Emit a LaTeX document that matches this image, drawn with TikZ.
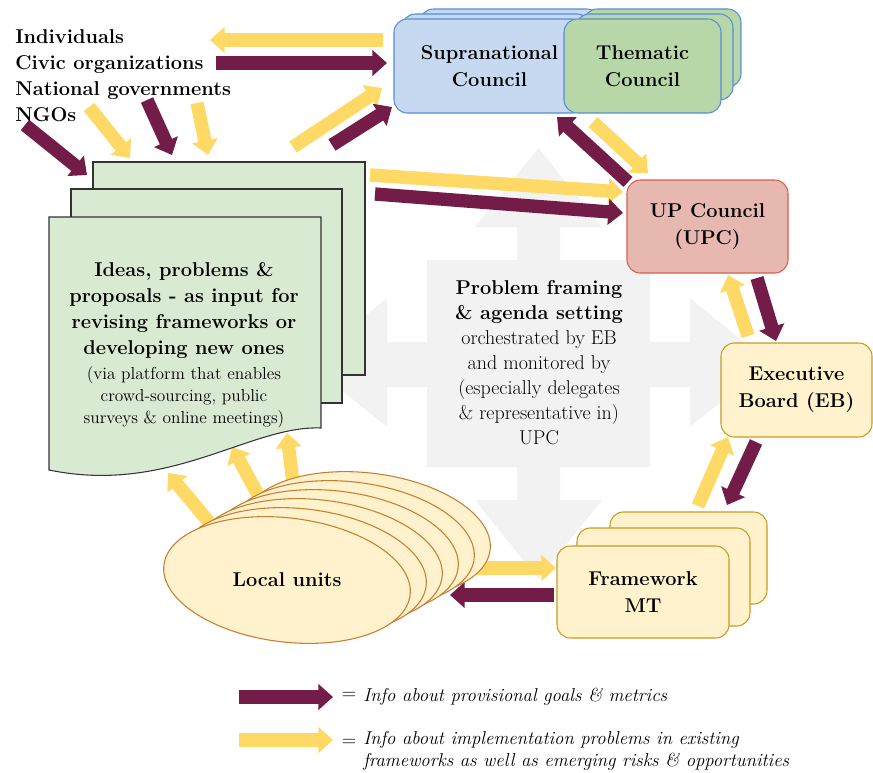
\documentclass[tikz,border=0pt]{standalone}
\usepackage{tikz}
\usetikzlibrary{arrows.meta,positioning,shapes.geometric}

\definecolor{plum}{RGB}{114,28,71}
\definecolor{gold}{RGB}{255,217,102}
\definecolor{paleblue}{RGB}{198,217,241}
\definecolor{bluerim}{RGB}{85,142,213}
\definecolor{sage}{RGB}{183,215,168}
\definecolor{mint}{RGB}{217,234,211}
\definecolor{cream}{RGB}{255,242,204}
\definecolor{ochre}{RGB}{200,155,30}
\definecolor{rose}{RGB}{230,184,175}
\definecolor{brick}{RGB}{215,95,75}
\definecolor{clay}{RGB}{200,125,50}
\definecolor{mist}{RGB}{242,242,242}

\newcommand\boxfont{\fontsize{15}{20.5}\selectfont\bfseries}
\newcommand\notefont{\fontsize{13}{16.5}\selectfont}
\newcommand\keyfont{\fontsize{14}{16.5}\selectfont\itshape}

\tikzset{
  flow/.style={line width=10pt,-{Triangle[length=11pt,width=19pt]}},
  goalflow/.style={flow,draw=plum},
  riskflow/.style={flow,draw=gold},
  sheet/.style={draw=black!80,fill=mint,line width=0.8pt},
  bluepanel/.style={draw=bluerim,fill=paleblue,rounded corners=10pt,line width=0.8pt},
  greenpanel/.style={draw=bluerim,fill=sage,rounded corners=10pt,line width=0.8pt},
  mtpanel/.style={draw=ochre,fill=cream,rounded corners=10pt,line width=0.8pt},
  panel/.style={rectangle,inner sep=0pt,align=center,font=\boxfont},
  actor/.style={anchor=base west,inner sep=0pt,font=\fontsize{15}{19.5}\selectfont\bfseries},
  unit/.style={ellipse,draw=clay,fill=cream,line width=0.8pt,inner sep=0pt,
    minimum width=186pt,minimum height=93pt,rotate=-7},
}

\begin{document}
\begin{tikzpicture}[x=0.75pt,y=-0.75pt]
\useasboundingbox (0,0) rectangle (873,772);

% grey cross in the middle
\fill[mist] (538.5,148) -- (602,227) -- (560,227) -- (560,260) -- (650,260) -- (650,342)
  -- (690,342) -- (690,298) -- (769,363) -- (690,427) -- (690,387) -- (650,387)
  -- (650,467) -- (560,467) -- (560,500) -- (602,500) -- (538.5,579) -- (475,500)
  -- (517,500) -- (517,467) -- (427,467) -- (427,387) -- (387,387) -- (387,427)
  -- (308,363) -- (387,298) -- (387,342) -- (427,342) -- (427,260) -- (517,260)
  -- (517,227) -- (475,227) -- cycle;

% arrow ends
\coordinate (ind-a) at (383,40);   \coordinate (ind-b) at (210,40);
\coordinate (civ-a) at (216,63);   \coordinate (civ-b) at (387,63);
\coordinate (ngo-a) at (25,125);   \coordinate (ngo-b) at (87,175);
\coordinate (nat1-a) at (89,107);  \coordinate (nat1-b) at (130,158);
\coordinate (nat2-a) at (147,100); \coordinate (nat2-b) at (172,155);
\coordinate (nat3-a) at (197,103); \coordinate (nat3-b) at (208,155);
\coordinate (up1-a) at (293,147);  \coordinate (up1-b) at (382,88);
\coordinate (up2-a) at (332,145);  \coordinate (up2-b) at (392,107);
\coordinate (upc1-a) at (370,175); \coordinate (upc1-b) at (623,192);
\coordinate (upc2-a) at (375,194); \coordinate (upc2-b) at (623,213);
\coordinate (sc1-a) at (628,182);  \coordinate (sc1-b) at (557,117);
\coordinate (sc2-a) at (593,122);  \coordinate (sc2-b) at (648,173);
\coordinate (eb1-a) at (748,336);  \coordinate (eb1-b) at (728,275);
\coordinate (eb2-a) at (757,278);  \coordinate (eb2-b) at (776,341);
\coordinate (mt1-a) at (698,506);  \coordinate (mt1-b) at (728,437);
\coordinate (mt2-a) at (756,442);  \coordinate (mt2-b) at (727,505);
\coordinate (lu1-a) at (470,568);  \coordinate (lu1-b) at (556,568);
\coordinate (lu2-a) at (554,595);  \coordinate (lu2-b) at (450,595);
\coordinate (in1-a) at (213,527);  \coordinate (in1-b) at (168,473);
\coordinate (in2-a) at (262,502);  \coordinate (in2-b) at (232,447);
\coordinate (in3-a) at (293,483);  \coordinate (in3-b) at (287,433);

\draw[riskflow] (ind-a) -- (ind-b);
\draw[goalflow] (civ-a) -- (civ-b);
\draw[goalflow] (ngo-a) -- (ngo-b);
\draw[riskflow] (nat1-a) -- (nat1-b);
\draw[goalflow] (nat2-a) -- (nat2-b);
\draw[riskflow] (nat3-a) -- (nat3-b);
\draw[riskflow] (up1-a) -- (up1-b);
\draw[goalflow] (up2-a) -- (up2-b);
\draw[riskflow] (upc1-a) -- (upc1-b);
\draw[goalflow] (upc2-a) -- (upc2-b);
\draw[goalflow] (sc1-a) -- (sc1-b);
\draw[riskflow] (sc2-a) -- (sc2-b);
\draw[riskflow] (eb1-a) -- (eb1-b);
\draw[goalflow] (eb2-a) -- (eb2-b);
\draw[riskflow] (mt1-a) -- (mt1-b);
\draw[goalflow] (mt2-a) -- (mt2-b);
\draw[riskflow] (lu1-a) -- (lu1-b);
\draw[goalflow] (lu2-a) -- (lu2-b);
\draw[riskflow] (in1-a) -- (in1-b);
\draw[riskflow] (in2-a) -- (in2-b);
\draw[riskflow] (in3-a) -- (in3-b);

% actors
\node[actor] (indiv) at (15,43) {Individuals};
\node[actor] (civic) at (15,69) {Civic organizations};
\node[actor] (natgov) at (15,95) {National governments};
\node[actor] (ngos) at (15,121) {NGOs};

% councils
\draw[bluepanel] (420,9) rectangle (600,85);
\draw[bluepanel] (402,14) rectangle (590,100);
\node[panel,bluepanel,minimum width=143.25pt,minimum height=70.5pt] (supra) at (489.5,66)
  {Supranational\\Council};
\draw[greenpanel] (584,9) rectangle (741,87);
\draw[greenpanel] (576,14) rectangle (733,100);
\node[panel,greenpanel,minimum width=117.75pt,minimum height=70.5pt] (thematic) at (642.5,66)
  {Thematic\\Council};

\node[panel,draw=brick,fill=rose,rounded corners=10pt,line width=0.8pt,
  minimum width=120.75pt,minimum height=69.75pt] (upc) at (707.5,226.5) {UP Council\\(UPC)};
\node[panel,mtpanel,minimum width=113.25pt,minimum height=70.5pt] (eb) at (796.5,390)
  {Executive\\Board (EB)};

% framework boxes
\draw[mtpanel] (610,512) rectangle (767,604);
\draw[mtpanel] (577,528) rectangle (750,626);
\node[panel,mtpanel,minimum width=129pt,minimum height=69pt] (mt) at (643,592) {Framework\\MT};

% input sheets
\draw[sheet] (93,162) rectangle (365,375);
\draw[sheet] (71,189) rectangle (342,403);
\draw[sheet] (49,217) -- (321,217) -- (321,428) .. controls (250,425) and (170,495) .. (49,470) -- cycle;
\node[align=center,font=\fontsize{15}{19.5}\selectfont\bfseries,inner sep=0pt] (ideas) at (184,310)
  {Ideas, problems \&\\proposals - as input for\\revising frameworks or\\developing new ones};
\node[align=center,font=\notefont,inner sep=0pt] (via) at (184,397)
  {(via platform that enables\\crowd-sourcing, public\\surveys \& online meetings)};

% local units
\foreach \i in {5,4,...,1}
  \node[unit] (lu\i) at (287+16*\i,580-9*\i) {};
\node[unit] (local) at (287,580) {};
\node[font=\boxfont] (locallbl) at (local.center) {Local units};

% centre text
\node[align=center,inner sep=0pt,font=\fontsize{15}{18.75}\selectfont] (agenda) at (539,362.5)
  {\textbf{Problem framing}\\\textbf{\& agenda setting}\\orchestrated by EB\\and monitored by\\
   (especially delegates\\\& representative in)\\UPC};

% legend
\coordinate (key1-a) at (239,697); \coordinate (key1-b) at (333,697);
\coordinate (key2-a) at (239,740); \coordinate (key2-b) at (333,740);
\draw[goalflow] (key1-a) -- (key1-b);
\draw[riskflow] (key2-a) -- (key2-b);
\node[font=\fontsize{15}{15}\selectfont] (eq1) at (349,696) {=};
\node[font=\fontsize{15}{15}\selectfont] (eq2) at (349,743) {=};
\node[anchor=west,font=\keyfont,inner sep=0pt] (key1) at (363,697) {Info about provisional goals \& metrics};
\node[anchor=north west,align=left,font=\keyfont,inner sep=0pt] (key2) at (363,731)
  {Info about implementation problems in existing\\frameworks as well as emerging risks \& opportunities};
\end{tikzpicture}
\end{document}
